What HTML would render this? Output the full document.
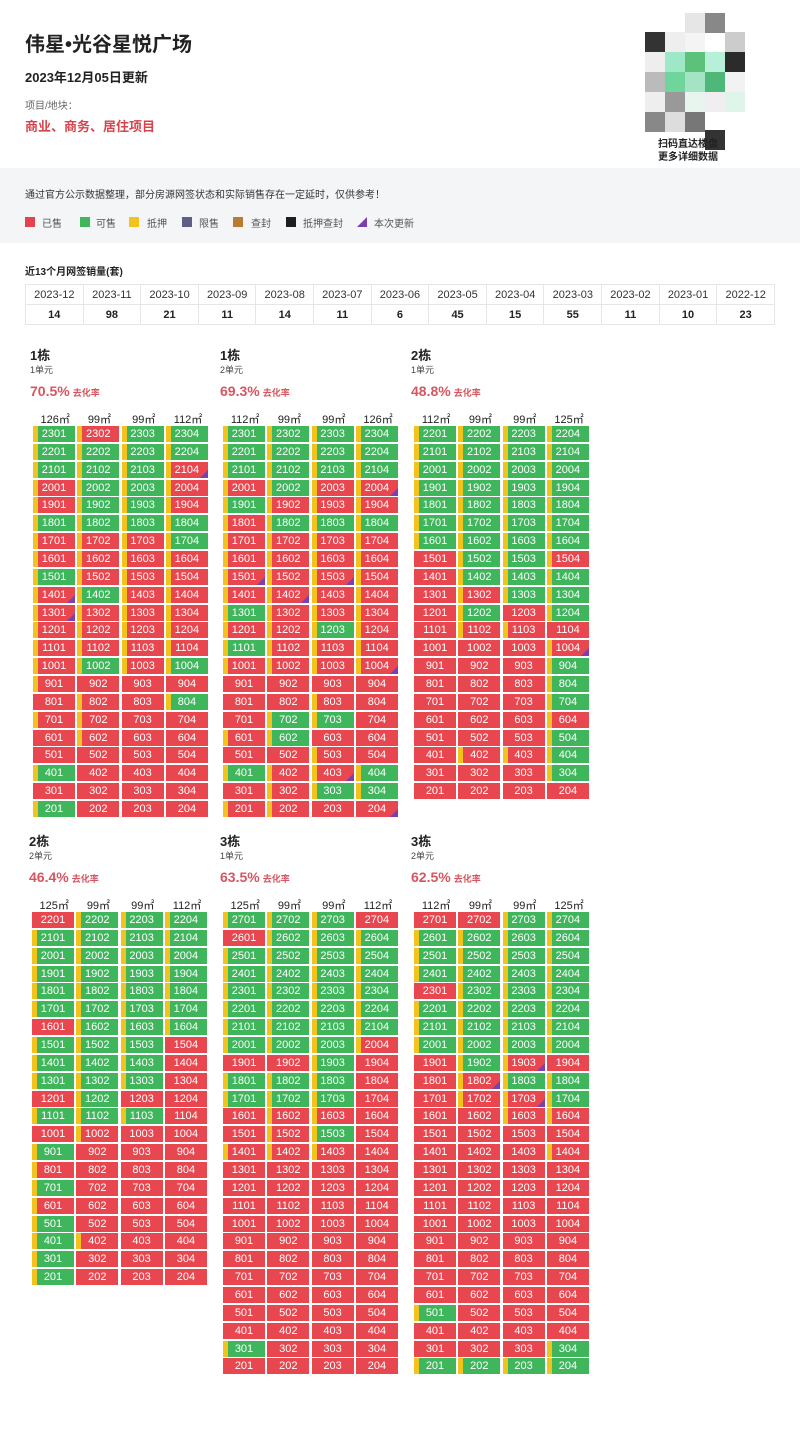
<!DOCTYPE html>
<html><head><meta charset="utf-8">
<style>
*{margin:0;padding:0;box-sizing:border-box}
body{width:800px;height:1431px;background:#fff;position:relative;overflow:hidden;font-family:"Liberation Sans","Noto Sans CJK SC",sans-serif;color:#222}
.a{position:absolute;white-space:nowrap}
.band{position:absolute;left:0;top:168px;width:800px;height:75px;background:#f4f5f7}
.lg{position:absolute;top:217px;width:10px;height:10px}
table{position:absolute;left:25px;top:284px;width:750px;border-collapse:collapse;table-layout:fixed}
td{border:1px solid #e6e6e6;height:20px;text-align:center;font-size:11px;color:#333}
tr.v td{font-weight:bold;color:#222}
.blk{position:absolute;width:180px;height:480px}
.blk .t{position:absolute;left:0;top:2px;font-size:13px;font-weight:bold}
.blk .u{position:absolute;left:0;top:20px;font-size:9px;color:#444}
.blk .r{position:absolute;left:0;top:40px;font-size:14px;font-weight:bold;color:#d65660}
.blk .r small{font-size:9px;margin-left:3px}
.blk .h{position:absolute;left:3px;top:68px;display:grid;grid-template-columns:repeat(4,44.3px);font-size:11px;text-align:center}
.gr{position:absolute;left:3px;top:83px;display:grid;grid-template-columns:repeat(4,42px);column-gap:2.3px;grid-auto-rows:16px;row-gap:1.86px}
.gr b{display:block;background:#e8474f;color:#fff;font:11px/16px "Liberation Sans",sans-serif;text-align:center;position:relative;overflow:hidden}
.gr b.g,.gr b.G{background:#3fb65c}
.gr b.y,.gr b.G{box-shadow:inset 5px 0 #f2c21d}
.gr b.p::after{content:"";position:absolute;right:0;bottom:0;border-style:solid;border-width:0 0 8px 8px;border-color:transparent transparent #7b3fb0 transparent}
.q{position:absolute;width:20px;height:20px}
</style></head><body>
<div class="a" style="left:25px;top:28px;font-size:20px;font-weight:bold">伟星•光谷星悦广场</div>
<div class="a" style="left:25px;top:67px;font-size:13px;font-weight:bold">2023年12月05日更新</div>
<div class="a" style="left:25px;top:97px;font-size:10px;color:#666">项目/地块：</div>
<div class="a" style="left:25px;top:116px;font-size:13px;font-weight:bold;color:#d6454d">商业、商务、居住项目</div>

<div class="q" style="left:645px;top:32px;background:#333"></div>
<div class="q" style="left:665px;top:32px;background:#eee"></div>
<div class="q" style="left:685px;top:32px;background:#f4f4f4"></div>
<div class="q" style="left:705px;top:13px;background:#888"></div>
<div class="q" style="left:685px;top:13px;background:#e6e6e6"></div>
<div class="q" style="left:725px;top:32px;background:#ccc"></div>
<div class="q" style="left:645px;top:52px;background:#eee"></div>
<div class="q" style="left:665px;top:52px;background:#9ee8c8"></div>
<div class="q" style="left:685px;top:52px;background:#5cc27a"></div>
<div class="q" style="left:705px;top:52px;background:#b6f0d8"></div>
<div class="q" style="left:725px;top:52px;background:#2b2b2b"></div>
<div class="q" style="left:645px;top:72px;background:#bbb"></div>
<div class="q" style="left:665px;top:72px;background:#6fd59a"></div>
<div class="q" style="left:685px;top:72px;background:#a4e4c4"></div>
<div class="q" style="left:705px;top:72px;background:#4db878"></div>
<div class="q" style="left:725px;top:72px;background:#f2f2f2"></div>
<div class="q" style="left:645px;top:92px;background:#eee"></div>
<div class="q" style="left:665px;top:92px;background:#999"></div>
<div class="q" style="left:685px;top:92px;background:#e8f4ee"></div>
<div class="q" style="left:705px;top:92px;background:#f0eef0"></div>
<div class="q" style="left:725px;top:92px;background:#dff5ea"></div>
<div class="q" style="left:645px;top:112px;background:#888"></div>
<div class="q" style="left:665px;top:112px;background:#ddd"></div>
<div class="q" style="left:685px;top:112px;background:#777"></div>
<div class="q" style="left:705px;top:130px;background:#333"></div>
<div class="a" style="left:658px;top:138px;font-size:10px;font-weight:bold;line-height:13px">扫码直达楼盘<br>更多详细数据</div>

<div class="band"></div>
<div class="a" style="left:25px;top:186px;font-size:10px;color:#333">通过官方公示数据整理，部分房源网签状态和实际销售存在一定延时，仅供参考！</div>
<div class="lg" style="left:25px;background:#e2434c"></div><div class="a" style="left:42px;top:215px;font-size:10px;color:#555">已售</div>
<div class="lg" style="left:80px;background:#3fb65c"></div><div class="a" style="left:96px;top:215px;font-size:10px;color:#555">可售</div>
<div class="lg" style="left:129px;background:#f2c21d"></div><div class="a" style="left:147px;top:215px;font-size:10px;color:#555">抵押</div>
<div class="lg" style="left:182px;background:#5d5f86"></div><div class="a" style="left:199px;top:215px;font-size:10px;color:#555">限售</div>
<div class="lg" style="left:233px;background:#b97a33"></div><div class="a" style="left:251px;top:215px;font-size:10px;color:#555">查封</div>
<div class="lg" style="left:286px;background:#1e1e1e"></div><div class="a" style="left:303px;top:215px;font-size:10px;color:#555">抵押查封</div>
<div class="lg" style="left:357px;width:0;height:0;border-style:solid;border-width:0 0 10px 10px;border-color:transparent transparent #7b3fb0 transparent"></div><div class="a" style="left:374px;top:215px;font-size:10px;color:#555">本次更新</div>

<div class="a" style="left:25px;top:263px;font-size:10px;font-weight:bold">近13个月网签销量(套)</div>
<table>
<tr><td>2023-12</td><td>2023-11</td><td>2023-10</td><td>2023-09</td><td>2023-08</td><td>2023-07</td><td>2023-06</td><td>2023-05</td><td>2023-04</td><td>2023-03</td><td>2023-02</td><td>2023-01</td><td>2022-12</td></tr>
<tr class="v"><td>14</td><td>98</td><td>21</td><td>11</td><td>14</td><td>11</td><td>6</td><td>45</td><td>15</td><td>55</td><td>11</td><td>10</td><td>23</td></tr>
</table>

<!-- Block 1 -->
<div class="blk" style="left:30px;top:343px">
<div class="t">1栋</div><div class="u">1单元</div><div class="r">70.5%<small>去化率</small></div>
<div class="h"><span>126㎡</span><span>99㎡</span><span>99㎡</span><span>112㎡</span></div>
<div class="gr">
<b class=G>2301</b><b class=y>2302</b><b class=G>2303</b><b class=G>2304</b>
<b class=G>2201</b><b class=G>2202</b><b class=G>2203</b><b class=G>2204</b>
<b class=G>2101</b><b class=G>2102</b><b class=G>2103</b><b class="y p">2104</b>
<b class=y>2001</b><b class=G>2002</b><b class=G>2003</b><b class=y>2004</b>
<b class=y>1901</b><b class=G>1902</b><b class=G>1903</b><b class=y>1904</b>
<b class=G>1801</b><b class=G>1802</b><b class=G>1803</b><b class=G>1804</b>
<b class=y>1701</b><b class=y>1702</b><b class=y>1703</b><b class=G>1704</b>
<b class=y>1601</b><b class=y>1602</b><b class=y>1603</b><b class=y>1604</b>
<b class=G>1501</b><b class=y>1502</b><b class=y>1503</b><b class=y>1504</b>
<b class="y p">1401</b><b class=G>1402</b><b class=y>1403</b><b class=y>1404</b>
<b class="y p">1301</b><b class=y>1302</b><b class=y>1303</b><b class=y>1304</b>
<b class=y>1201</b><b class=y>1202</b><b class=y>1203</b><b class=y>1204</b>
<b class=y>1101</b><b class=y>1102</b><b class=y>1103</b><b class=y>1104</b>
<b class=y>1001</b><b class=G>1002</b><b class=y>1003</b><b class=G>1004</b>
<b class=y>901</b><b>902</b><b>903</b><b>904</b>
<b>801</b><b class=y>802</b><b>803</b><b class=G>804</b>
<b class=y>701</b><b class=y>702</b><b>703</b><b>704</b>
<b>601</b><b class=y>602</b><b>603</b><b>604</b>
<b>501</b><b>502</b><b>503</b><b>504</b>
<b class=G>401</b><b>402</b><b>403</b><b>404</b>
<b>301</b><b>302</b><b>303</b><b>304</b>
<b class=G>201</b><b>202</b><b>203</b><b>204</b>
</div></div>

<!-- Block 2 -->
<div class="blk" style="left:220px;top:343px">
<div class="t">1栋</div><div class="u">2单元</div><div class="r">69.3%<small>去化率</small></div>
<div class="h"><span>112㎡</span><span>99㎡</span><span>99㎡</span><span>126㎡</span></div>
<div class="gr">
<b class=G>2301</b><b class=G>2302</b><b class=G>2303</b><b class=G>2304</b>
<b class=G>2201</b><b class=G>2202</b><b class=G>2203</b><b class=G>2204</b>
<b class=G>2101</b><b class=G>2102</b><b class=G>2103</b><b class=G>2104</b>
<b class=y>2001</b><b class=G>2002</b><b class=y>2003</b><b class="y p">2004</b>
<b class=G>1901</b><b class=y>1902</b><b class=y>1903</b><b class=y>1904</b>
<b class=y>1801</b><b class=G>1802</b><b class=G>1803</b><b class=G>1804</b>
<b class=y>1701</b><b class=y>1702</b><b class=y>1703</b><b class=y>1704</b>
<b class=y>1601</b><b class=y>1602</b><b class=y>1603</b><b class=y>1604</b>
<b class="y p">1501</b><b class=y>1502</b><b class="y p">1503</b><b class=y>1504</b>
<b class=y>1401</b><b class="y p">1402</b><b class=y>1403</b><b class=y>1404</b>
<b class=G>1301</b><b class=y>1302</b><b class=y>1303</b><b class=y>1304</b>
<b class=y>1201</b><b class=y>1202</b><b class=G>1203</b><b class=y>1204</b>
<b class=G>1101</b><b class=y>1102</b><b class=y>1103</b><b class=y>1104</b>
<b class=y>1001</b><b class=y>1002</b><b class=y>1003</b><b class="y p">1004</b>
<b>901</b><b>902</b><b>903</b><b>904</b>
<b>801</b><b>802</b><b class=y>803</b><b>804</b>
<b>701</b><b class=G>702</b><b class=G>703</b><b>704</b>
<b class=y>601</b><b class=G>602</b><b>603</b><b>604</b>
<b>501</b><b>502</b><b class=y>503</b><b>504</b>
<b class=G>401</b><b class=y>402</b><b class="y p">403</b><b class=G>404</b>
<b>301</b><b class=y>302</b><b class=G>303</b><b class=G>304</b>
<b class=y>201</b><b class=y>202</b><b>203</b><b class=p>204</b>
</div></div>

<!-- Block 3 -->
<div class="blk" style="left:411px;top:343px">
<div class="t">2栋</div><div class="u">1单元</div><div class="r">48.8%<small>去化率</small></div>
<div class="h"><span>112㎡</span><span>99㎡</span><span>99㎡</span><span>125㎡</span></div>
<div class="gr">
<b class=G>2201</b><b class=G>2202</b><b class=G>2203</b><b class=G>2204</b>
<b class=G>2101</b><b class=G>2102</b><b class=G>2103</b><b class=G>2104</b>
<b class=G>2001</b><b class=G>2002</b><b class=G>2003</b><b class=G>2004</b>
<b class=G>1901</b><b class=G>1902</b><b class=G>1903</b><b class=G>1904</b>
<b class=G>1801</b><b class=G>1802</b><b class=G>1803</b><b class=G>1804</b>
<b class=G>1701</b><b class=G>1702</b><b class=G>1703</b><b class=G>1704</b>
<b class=G>1601</b><b class=G>1602</b><b class=G>1603</b><b class=G>1604</b>
<b>1501</b><b class=G>1502</b><b class=G>1503</b><b class=y>1504</b>
<b>1401</b><b class=G>1402</b><b class=G>1403</b><b class=G>1404</b>
<b>1301</b><b class=y>1302</b><b class=G>1303</b><b class=G>1304</b>
<b>1201</b><b class=G>1202</b><b>1203</b><b class=G>1204</b>
<b>1101</b><b class=y>1102</b><b class=y>1103</b><b>1104</b>
<b>1001</b><b>1002</b><b>1003</b><b class="y p">1004</b>
<b>901</b><b>902</b><b>903</b><b class=G>904</b>
<b>801</b><b>802</b><b>803</b><b class=G>804</b>
<b>701</b><b>702</b><b>703</b><b class=G>704</b>
<b>601</b><b>602</b><b>603</b><b class=y>604</b>
<b>501</b><b>502</b><b>503</b><b class=G>504</b>
<b>401</b><b class=y>402</b><b class=y>403</b><b class=G>404</b>
<b>301</b><b>302</b><b>303</b><b class=G>304</b>
<b>201</b><b>202</b><b>203</b><b>204</b>
</div></div>

<!-- Block 4 -->
<div class="blk" style="left:29px;top:829px;height:560px">
<div class="t">2栋</div><div class="u">2单元</div><div class="r">46.4%<small>去化率</small></div>
<div class="h"><span>125㎡</span><span>99㎡</span><span>99㎡</span><span>112㎡</span></div>
<div class="gr">
<b>2201</b><b class=G>2202</b><b class=G>2203</b><b class=G>2204</b>
<b class=G>2101</b><b class=G>2102</b><b class=G>2103</b><b class=G>2104</b>
<b class=G>2001</b><b class=G>2002</b><b class=G>2003</b><b class=G>2004</b>
<b class=G>1901</b><b class=G>1902</b><b class=G>1903</b><b class=G>1904</b>
<b class=G>1801</b><b class=G>1802</b><b class=G>1803</b><b class=G>1804</b>
<b class=G>1701</b><b class=G>1702</b><b class=G>1703</b><b class=G>1704</b>
<b>1601</b><b class=G>1602</b><b class=G>1603</b><b class=G>1604</b>
<b class=G>1501</b><b class=G>1502</b><b class=G>1503</b><b>1504</b>
<b class=G>1401</b><b class=G>1402</b><b class=G>1403</b><b>1404</b>
<b class=G>1301</b><b class=G>1302</b><b class=G>1303</b><b>1304</b>
<b>1201</b><b class=G>1202</b><b>1203</b><b>1204</b>
<b class=G>1101</b><b class=G>1102</b><b class=G>1103</b><b>1104</b>
<b>1001</b><b class=y>1002</b><b>1003</b><b>1004</b>
<b class=G>901</b><b>902</b><b>903</b><b>904</b>
<b class=y>801</b><b>802</b><b>803</b><b>804</b>
<b class=G>701</b><b>702</b><b>703</b><b>704</b>
<b class=y>601</b><b>602</b><b>603</b><b>604</b>
<b class=G>501</b><b>502</b><b>503</b><b>504</b>
<b class=G>401</b><b class=y>402</b><b>403</b><b>404</b>
<b class=G>301</b><b>302</b><b>303</b><b>304</b>
<b class=G>201</b><b>202</b><b>203</b><b>204</b>
</div></div>

<!-- Block 5 -->
<div class="blk" style="left:220px;top:829px;height:560px">
<div class="t">3栋</div><div class="u">1单元</div><div class="r">63.5%<small>去化率</small></div>
<div class="h"><span>125㎡</span><span>99㎡</span><span>99㎡</span><span>112㎡</span></div>
<div class="gr">
<b class=G>2701</b><b class=G>2702</b><b class=G>2703</b><b>2704</b>
<b>2601</b><b class=G>2602</b><b class=G>2603</b><b class=G>2604</b>
<b class=G>2501</b><b class=G>2502</b><b class=G>2503</b><b class=G>2504</b>
<b class=G>2401</b><b class=G>2402</b><b class=G>2403</b><b class=G>2404</b>
<b class=G>2301</b><b class=G>2302</b><b class=G>2303</b><b class=G>2304</b>
<b class=G>2201</b><b class=G>2202</b><b class=G>2203</b><b class=G>2204</b>
<b class=G>2101</b><b class=G>2102</b><b class=G>2103</b><b class=G>2104</b>
<b class=G>2001</b><b class=G>2002</b><b class=G>2003</b><b class=y>2004</b>
<b>1901</b><b>1902</b><b class=G>1903</b><b>1904</b>
<b class=G>1801</b><b class=G>1802</b><b class=G>1803</b><b>1804</b>
<b class=G>1701</b><b class=G>1702</b><b class=G>1703</b><b>1704</b>
<b>1601</b><b class=y>1602</b><b class=y>1603</b><b>1604</b>
<b>1501</b><b class=y>1502</b><b class=G>1503</b><b>1504</b>
<b class=y>1401</b><b class=y>1402</b><b class=y>1403</b><b>1404</b>
<b>1301</b><b>1302</b><b>1303</b><b>1304</b>
<b>1201</b><b>1202</b><b>1203</b><b>1204</b>
<b>1101</b><b>1102</b><b>1103</b><b>1104</b>
<b>1001</b><b>1002</b><b>1003</b><b>1004</b>
<b>901</b><b>902</b><b>903</b><b>904</b>
<b>801</b><b>802</b><b>803</b><b>804</b>
<b>701</b><b>702</b><b>703</b><b>704</b>
<b>601</b><b>602</b><b>603</b><b>604</b>
<b>501</b><b>502</b><b>503</b><b>504</b>
<b>401</b><b>402</b><b>403</b><b>404</b>
<b class=G>301</b><b>302</b><b>303</b><b>304</b>
<b>201</b><b>202</b><b>203</b><b>204</b>
</div></div>

<!-- Block 6 -->
<div class="blk" style="left:411px;top:829px;height:560px">
<div class="t">3栋</div><div class="u">2单元</div><div class="r">62.5%<small>去化率</small></div>
<div class="h"><span>112㎡</span><span>99㎡</span><span>99㎡</span><span>125㎡</span></div>
<div class="gr">
<b>2701</b><b>2702</b><b class=G>2703</b><b class=G>2704</b>
<b class=G>2601</b><b class=G>2602</b><b class=G>2603</b><b class=G>2604</b>
<b class=G>2501</b><b class=G>2502</b><b class=G>2503</b><b class=G>2504</b>
<b class=G>2401</b><b class=G>2402</b><b class=G>2403</b><b class=G>2404</b>
<b>2301</b><b class=G>2302</b><b class=G>2303</b><b class=G>2304</b>
<b class=G>2201</b><b class=G>2202</b><b class=G>2203</b><b class=G>2204</b>
<b class=G>2101</b><b class=G>2102</b><b class=G>2103</b><b class=G>2104</b>
<b class=G>2001</b><b class=G>2002</b><b class=G>2003</b><b class=G>2004</b>
<b>1901</b><b class=G>1902</b><b class="y p">1903</b><b>1904</b>
<b>1801</b><b class="y p">1802</b><b class=G>1803</b><b class=G>1804</b>
<b>1701</b><b class=y>1702</b><b class="y p">1703</b><b class=G>1704</b>
<b>1601</b><b>1602</b><b class=y>1603</b><b class=y>1604</b>
<b>1501</b><b>1502</b><b>1503</b><b>1504</b>
<b>1401</b><b>1402</b><b>1403</b><b class=y>1404</b>
<b>1301</b><b>1302</b><b>1303</b><b>1304</b>
<b>1201</b><b>1202</b><b>1203</b><b>1204</b>
<b>1101</b><b>1102</b><b>1103</b><b>1104</b>
<b>1001</b><b>1002</b><b>1003</b><b>1004</b>
<b>901</b><b>902</b><b>903</b><b>904</b>
<b>801</b><b>802</b><b>803</b><b>804</b>
<b>701</b><b>702</b><b>703</b><b>704</b>
<b>601</b><b>602</b><b>603</b><b>604</b>
<b class=G>501</b><b>502</b><b>503</b><b>504</b>
<b>401</b><b>402</b><b>403</b><b>404</b>
<b>301</b><b>302</b><b>303</b><b class=G>304</b>
<b class=G>201</b><b class=G>202</b><b class=G>203</b><b class=G>204</b>
</div></div>
</body></html>
